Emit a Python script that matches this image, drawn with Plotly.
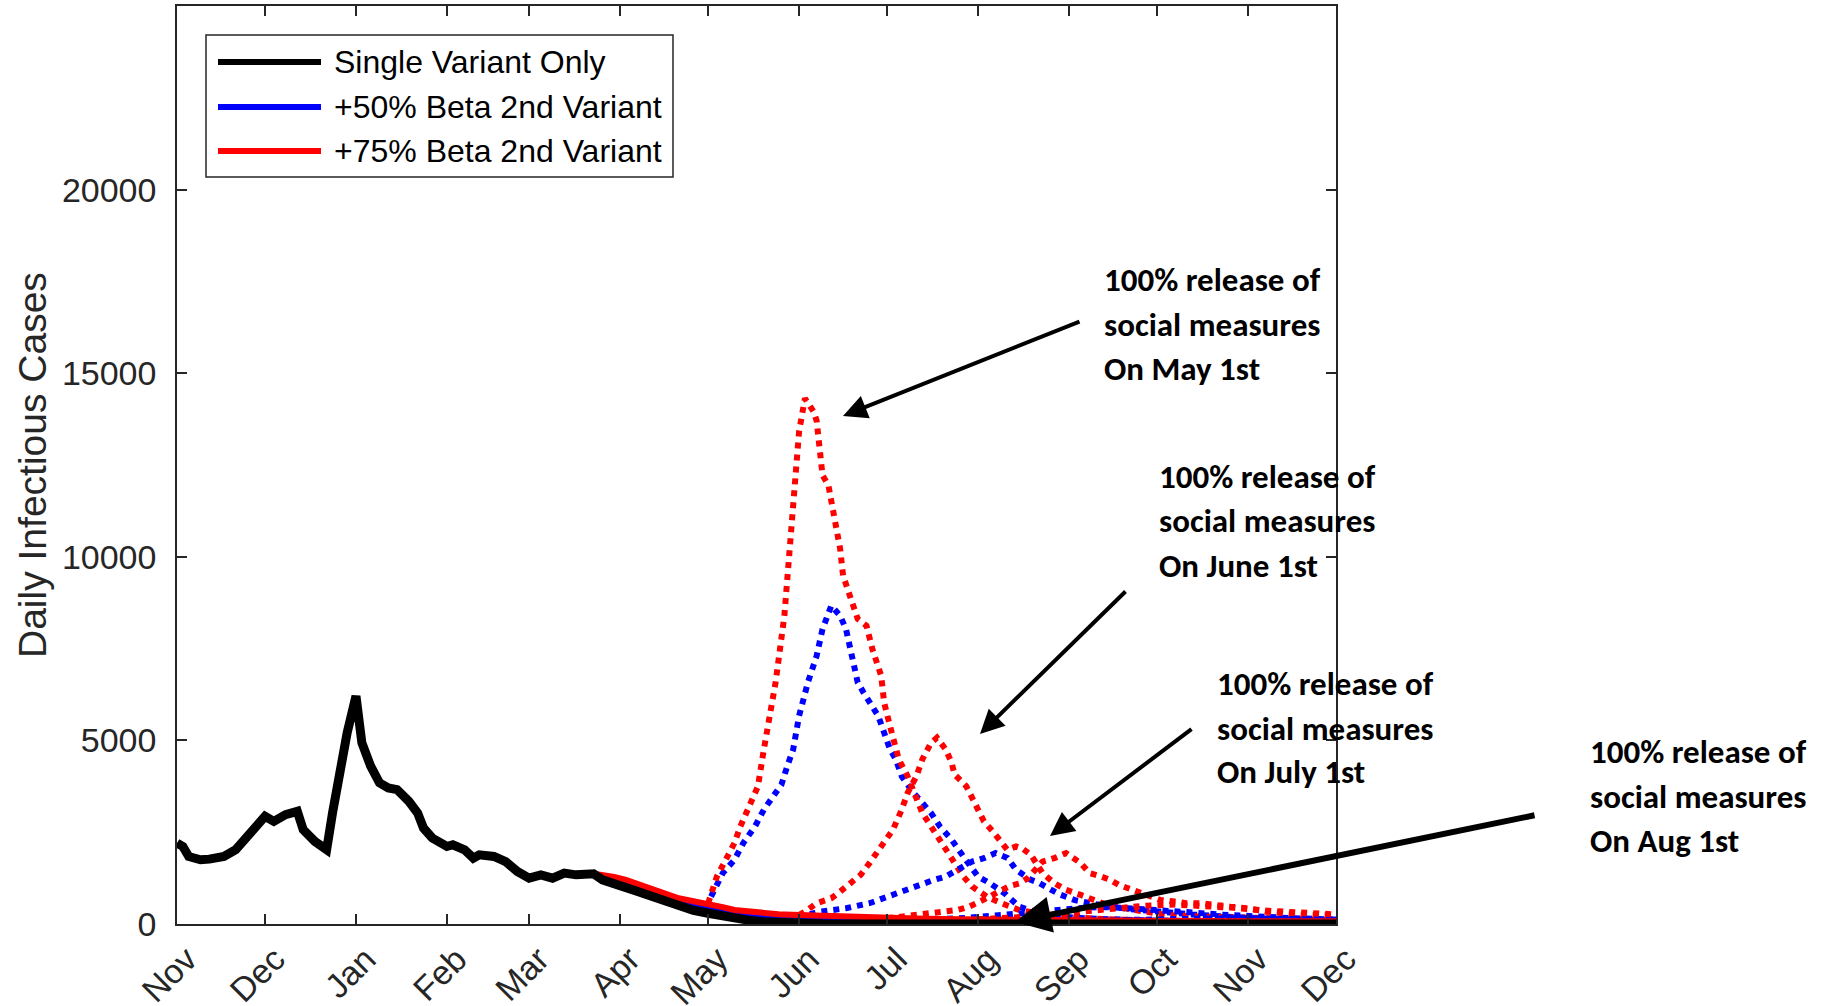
import pandas as pd
import plotly.graph_objects as go

# ---------------------------------------------------------------------------
# Data: day offsets counted from 1 Nov 2020, and daily infectious cases
# ---------------------------------------------------------------------------
START = pd.Timestamp("2020-11-01")

month_ticks = ["2020-11-01", "2020-12-01", "2021-01-01", "2021-02-01", "2021-03-01",
               "2021-04-01", "2021-05-01", "2021-06-01", "2021-07-01", "2021-08-01",
               "2021-09-01", "2021-10-01", "2021-11-01", "2021-12-01"]
month_labels = ["Nov", "Dec", "Jan", "Feb", "Mar", "Apr", "May", "Jun", "Jul",
                "Aug", "Sep", "Oct", "Nov", "Dec"]
case_ticks = [0, 5000, 10000, 15000, 20000]
case_labels = ["0", "5000", "10000", "15000", "20000"]

# single variant (observed + projection)
black_days = [0, 2, 4, 8, 11, 16, 20, 25, 30, 33, 37, 41, 43, 47, 51, 53, 55, 58, 61, 63,
              66, 69, 72, 75, 79, 82, 84, 87, 92, 94, 98, 101, 103, 108, 112, 116, 120,
              124, 128, 132, 136, 139, 142, 145, 149, 153, 158, 162, 167, 171, 176, 181,
              186, 190, 195, 199, 205, 210, 220, 240, 270, 395]
black_vals = [2205, 2112, 1839, 1748, 1767, 1839, 2022, 2478, 2932, 2795, 2978, 3068, 2568,
              2248, 2022, 3024, 4024, 5210, 6210, 4937, 4297, 3844, 3707, 3661, 3341, 3024,
              2614, 2341, 2112, 2158, 2022, 1795, 1885, 1839, 1702, 1429, 1248, 1339, 1248,
              1385, 1339, 1366, 1366, 1202, 1110, 1019, 860, 746, 590, 473, 370, 292, 210,
              156, 100, 63, 35, 19, 8, 2, 0, 0]

# +50% beta second variant, measures kept
blue_days = [142, 149, 153, 158, 162, 167, 171, 176, 181, 186, 190, 195, 199, 205, 212,
             227, 244, 273, 310, 350, 395]
blue_vals = [1366, 1200, 1110, 960, 840, 700, 590, 500, 430, 340, 280, 220, 180, 150, 120,
             85, 60, 40, 28, 20, 15]

# +75% beta second variant, measures kept
red_days = [142, 145, 149, 153, 158, 162, 167, 171, 176, 181, 186, 190, 195, 199, 205, 212,
            220, 227, 235, 244, 255, 267, 285, 310, 340, 370, 395]
red_vals = [1366, 1339, 1280, 1202, 1060, 929, 800, 702, 620, 560, 460, 382, 330, 292, 265,
            246, 220, 200, 175, 156, 140, 128, 110, 95, 85, 78, 72]

# releases of social measures, +50% variant
blue_may_days = [181, 182, 186, 190, 193, 197, 200, 203, 206, 208, 210, 212, 215, 218, 220,
                 223, 226, 228, 229, 231, 232, 234, 236, 239, 241, 243, 245, 247, 251, 257,
                 260, 264, 268, 273, 277, 282, 287, 294, 301, 310, 330, 360, 395]
blue_may_vals = [430, 746, 1385, 1748, 2205, 2658, 3114, 3478, 3797, 4300, 4754, 5664, 6575,
                 7303, 8032, 8669, 8395, 8032, 7669, 7030, 6575, 6302, 6030, 5664, 5210, 4754,
                 4480, 4024, 3570, 3024, 2658, 2295, 1839, 1293, 1112, 839, 473, 292, 200,
                 150, 100, 60, 40]
blue_jun_days = [212, 215, 219, 228, 236, 245, 250, 253, 258, 262, 267, 271, 275, 279, 283,
                 286, 291, 294, 298, 301, 306, 311, 317, 324, 330, 337, 346, 358, 371, 395]
blue_jun_vals = [120, 250, 336, 428, 566, 839, 975, 1065, 1202, 1293, 1521, 1702, 1795, 1931,
                 1800, 1475, 1202, 1112, 929, 800, 650, 560, 480, 410, 360, 310, 260, 200,
                 150, 100]
blue_jul_days = [242, 250, 260, 270, 280, 290, 300, 310, 318, 326, 335, 345, 355, 365, 380, 395]
blue_jul_vals = [60, 80, 120, 170, 240, 320, 400, 450, 460, 430, 380, 320, 260, 210, 160, 120]
blue_aug_days = [273, 285, 300, 315, 330, 345, 360, 375, 395]
blue_aug_vals = [40, 55, 85, 120, 150, 165, 160, 140, 120]

# releases of social measures, +75% variant
red_may_days = [181, 182, 184, 187, 190, 192, 195, 198, 200, 202, 204, 207, 209, 211, 212,
                214, 217, 218, 219, 220, 222, 223, 224, 226, 227, 229, 232, 235, 237, 240,
                241, 243, 246, 249, 252, 254, 257, 260, 262, 265, 268, 271, 276, 281, 287,
                300, 320, 350, 395]
red_may_vals = [560, 800, 1293, 1748, 2205, 2658, 3205, 3751, 4754, 5600, 6575, 8395, 10218,
                12040, 13406, 14316, 13950, 13700, 12900, 12220, 11950, 11490, 10950, 10220,
                9490, 9035, 8305, 8122, 7486, 6757, 6030, 5390, 4480, 4024, 3388, 3024, 2658,
                2295, 2022, 1658, 1293, 1019, 746, 566, 382, 200, 120, 80, 55]
red_jun_days = [212, 214, 218, 223, 226, 229, 233, 236, 241, 244, 247, 249, 252, 254, 257,
                259, 262, 264, 265, 268, 269, 271, 273, 275, 278, 281, 283, 286, 288, 291,
                295, 299, 303, 308, 312, 317, 323, 329, 337, 350, 370, 395]
red_jun_vals = [246, 336, 566, 702, 883, 1065, 1339, 1658, 2205, 2568, 3114, 3570, 4024,
                4480, 4937, 5073, 4754, 4390, 4071, 3797, 3751, 3434, 3114, 2795, 2522, 2205,
                2022, 2112, 2060, 1885, 1385, 1112, 929, 792, 656, 519, 428, 336, 246, 200,
                150, 120]
red_jul_days = [242, 247, 253, 260, 266, 270, 274, 277, 280, 284, 287, 290, 293, 295, 299,
                303, 308, 311, 315, 318, 321, 326, 330, 335, 340, 344, 349, 353, 359, 365,
                371, 378, 385, 395]
red_jul_vals = [156, 200, 246, 292, 382, 473, 610, 746, 880, 1040, 1100, 1250, 1521, 1700,
                1795, 1931, 1658, 1385, 1293, 1202, 1065, 929, 792, 656, 610, 566, 566, 519,
                473, 428, 336, 292, 246, 230]
red_aug_days = [273, 280, 290, 300, 310, 320, 330, 340, 350, 360, 370, 380, 395]
red_aug_vals = [128, 150, 200, 270, 350, 430, 500, 530, 500, 440, 370, 310, 260]

legend_names = ["Single Variant Only", "+50% Beta 2nd Variant", "+75% Beta 2nd Variant"]
release_notes = [
    ["100% release of", "social measures", "On May 1st"],
    ["100% release of", "social measures", "On June 1st"],
    ["100% release of", "social measures", "On July 1st"],
    ["100% release of", "social measures", "On Aug 1st"],
]

# ---------------------------------------------------------------------------
# Styling / layout helpers
# ---------------------------------------------------------------------------
W, H = 1846, 1006
ML, MR, MT, MB = 177, 510, 6, 82
PW, PH = W - ML - MR, H - MT - MB
AXIS = "#262626"
BLACK, BLUE, RED = "#000000", "#0000FF", "#FF0000"
TICK_FONT = "Liberation Sans, Arial, Helvetica, sans-serif"
NOTE_FONT = "Carlito, Calibri, Lato, sans-serif"
DOTS = "6px,6px"


def dates(days):
    return [START + pd.Timedelta(days=int(d)) for d in days]


def paper(px, py):
    """Pixel position in the page -> paper coordinates of the plot area."""
    return (px - ML) / PW, (MT + PH - py) / PH


fig = go.Figure()

dotted = [
    (blue_may_days, blue_may_vals, BLUE), (red_may_days, red_may_vals, RED),
    (blue_jun_days, blue_jun_vals, BLUE), (red_jun_days, red_jun_vals, RED),
    (blue_jul_days, blue_jul_vals, BLUE), (red_jul_days, red_jul_vals, RED),
    (blue_aug_days, blue_aug_vals, BLUE), (red_aug_days, red_aug_vals, RED),
]
for d, v, c in dotted:
    fig.add_trace(go.Scatter(x=dates(d), y=v, mode="lines", showlegend=False,
                             line=dict(color=c, width=6, dash=DOTS)))

fig.add_trace(go.Scatter(x=dates(blue_days), y=blue_vals, mode="lines", showlegend=False,
                         name=legend_names[1], line=dict(color=BLUE, width=5)))
fig.add_trace(go.Scatter(x=dates(red_days), y=red_vals, mode="lines", showlegend=False,
                         name=legend_names[2], line=dict(color=RED, width=6)))
fig.add_trace(go.Scatter(x=dates(black_days), y=black_vals, mode="lines", showlegend=False,
                         name=legend_names[0], line=dict(color=BLACK, width=9)))

shapes = []
annotations = []

# legend box drawn in MATLAB style
bx0, by0 = paper(206, 35)
bx1, by1 = paper(673, 177)
shapes.append(dict(type="rect", xref="paper", yref="paper", x0=bx0, y0=by1, x1=bx1, y1=by0,
                   line=dict(color=AXIS, width=1.5), fillcolor="white", layer="above"))
for name, color, yc in zip(legend_names, [BLACK, BLUE, RED], [62, 107, 151]):
    lx0, ly = paper(218, yc)
    lx1, _ = paper(321, yc)
    shapes.append(dict(type="line", xref="paper", yref="paper", x0=lx0, x1=lx1, y0=ly, y1=ly,
                       line=dict(color=color, width=6), layer="above"))
    tx, _ = paper(332, yc)
    annotations.append(dict(xref="paper", yref="paper", x=tx, y=ly, text=name,
                            showarrow=False, xanchor="left", yanchor="middle",
                            font=dict(family=TICK_FONT, size=32, color=BLACK)))

# y-axis title
tx, ty = paper(32, 465)
annotations.append(dict(xref="paper", yref="paper", x=tx, y=ty, text="Daily Infectious Cases",
                        textangle=-90, showarrow=False, xanchor="center", yanchor="middle",
                        font=dict(family=TICK_FONT, size=39, color=AXIS)))

# release notes (left edge, centre of each line)
note_pos = [(1102, [280, 325, 369]), (1157, [477, 521, 566]),
            (1215, [684, 729, 772]), (1588, [752, 797, 841])]
for lines, (x0, ys) in zip(release_notes, note_pos):
    for line, yc in zip(lines, ys):
        px_, py_ = paper(x0, yc)
        annotations.append(dict(xref="paper", yref="paper", x=px_, y=py_, text=f"<b>{line}</b>",
                                showarrow=False, xanchor="left", yanchor="middle",
                                font=dict(family=NOTE_FONT, size=33, color=BLACK)))

# arrows: (tail, head, width)
arrows = [((1081, 321), (843, 416), 4), ((1127, 590), (980, 734), 4),
          ((1193, 728), (1050, 836), 4), ((1536, 815), (1015, 922), 6)]
for (tx_, ty_), (hx, hy), w in arrows:
    ax_, ay_ = paper(hx, hy)
    annotations.append(dict(xref="paper", yref="paper", x=ax_, y=ay_, text="",
                            showarrow=True, arrowhead=2, arrowsize=1.2, arrowwidth=w,
                            arrowcolor=BLACK, standoff=0, ax=tx_ - hx, ay=ty_ - hy))

axis_common = dict(showline=True, linecolor=AXIS, linewidth=1.5, mirror="ticks",
                   ticks="inside", ticklen=10, tickwidth=1.5, tickcolor=AXIS,
                   showgrid=False, zeroline=False, automargin=False,
                   tickfont=dict(family=TICK_FONT, size=34, color=AXIS))

fig.update_layout(
    width=W, height=H,
    margin=dict(l=ML, r=MR, t=MT, b=MB),
    paper_bgcolor="white", plot_bgcolor="white",
    showlegend=False,
    xaxis=dict(type="date", range=[START, START + pd.Timedelta(days=395)],
               tickvals=month_ticks, ticktext=month_labels, tickangle=-45,
               ticklabelshift=10, **axis_common),
    yaxis=dict(range=[0, 25000], tickvals=case_ticks, ticktext=case_labels,
               ticklabelstandoff=12, **axis_common),
    shapes=shapes,
    annotations=annotations,
)

fig.write_html("out.html")
